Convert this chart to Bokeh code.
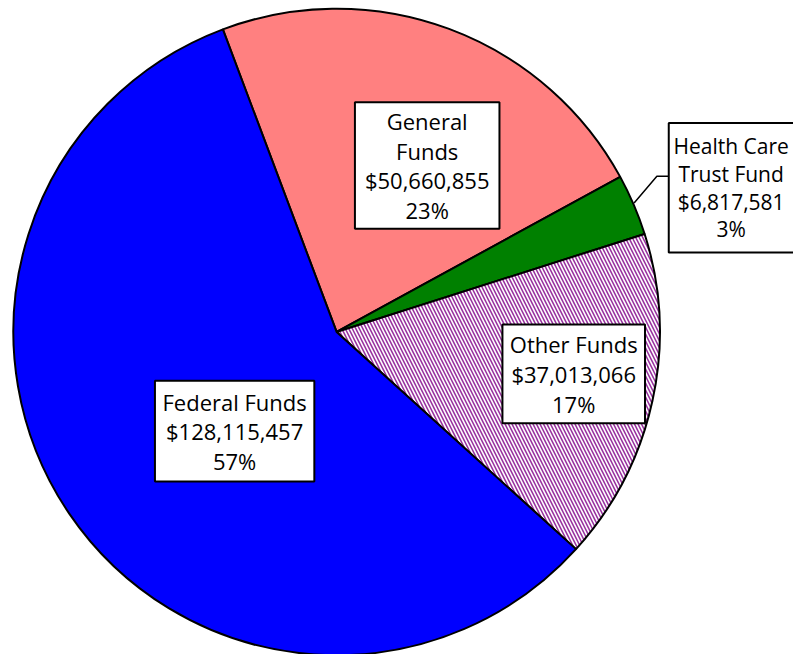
import math
from bokeh.plotting import figure
from bokeh.models import Range1d, ColumnDataSource
from bokeh.core.properties import value
from bokeh.embed import file_html
from bokeh.resources import INLINE

# ---- data ----
categories = ["General Funds", "Health Care Trust Fund", "Other Funds", "Federal Funds"]
amounts = [50660855, 6817581, 37013066, 128115457]
percents = [23, 3, 17, 57]
label_names = ["General\nFunds", "Health Care\nTrust Fund", "Other Funds", "Federal Funds"]
colors = ["#FF8080", "#008000", "#FFFFFF", "#0000FF"]
hatches = [" ", " ", "\\", " "]

# ---- layout: reference pixel space 801x662 drawn into a 793x654 figure ----
W, H = 793, 654
RW, RH = 801, 662
def sy(y):
    return RH - y

cx, cy, R = 339.5, sy(335.5), 326.5
start_deg = 110.6  # math angle where the first slice starts (drawn clockwise)

total = sum(amounts)
starts, ends = [], []
a = math.radians(start_deg)
for v in amounts:
    span = 2 * math.pi * v / total
    starts.append(a)
    ends.append(a - span)
    a -= span

p = figure(width=W, height=H, output_backend="svg", toolbar_location=None,
           x_range=Range1d(0, RW), y_range=Range1d(0, RH), min_border=0)
p.axis.visible = False
p.grid.visible = False
p.outline_line_color = None
p.background_fill_color = "white"
p.border_fill_color = "white"

src = ColumnDataSource(dict(start=starts, end=ends, color=colors, hatch=hatches))
p.wedge(x=cx, y=cy, radius=R, start_angle="start", end_angle="end", direction="clock",
        fill_color="color", hatch_pattern="hatch", hatch_color="#9933A0",
        hatch_scale=7, hatch_weight=1.6, line_color="black", line_width=2, source=src)

# leader line for small slice
p.line(x=[640, 663, 675], y=[sy(205), sy(178), sy(178)], line_color="black", line_width=1.5)

# label boxes (reference px: left, right, top, bottom)
boxes = [(358, 504, 103, 231), (675, 809, 124, 255), (507, 651, 328, 428), (156, 317, 385, 487)]
text_dx = [0, -4, 0, 0]
sizes = ["22px", "21px", "22px", "22px"]
texts, tx, ty = [], [], []
for name, v, pct, b, dx in zip(label_names, amounts, percents, boxes, text_dx):
    texts.append(f"{name}\n${v:,}\n{pct}%")
    tx.append((b[0] + b[1]) / 2 + dx)
    ty.append(sy((b[2] + b[3]) / 2))

p.quad(left=[b[0] for b in boxes], right=[b[1] for b in boxes],
       top=[sy(b[2]) for b in boxes], bottom=[sy(b[3]) for b in boxes],
       fill_color="white", line_color="black", line_width=2)

tsrc = ColumnDataSource(dict(x=tx, y=ty, text=texts, size=sizes))
p.text(x="x", y="y", text="text", text_font_size="size", source=tsrc,
       text_align="center", text_baseline="middle",
       text_font=value("Open Sans"), text_line_height=0.99, text_color="black")

open("out.html", "w").write(file_html(p, INLINE))
